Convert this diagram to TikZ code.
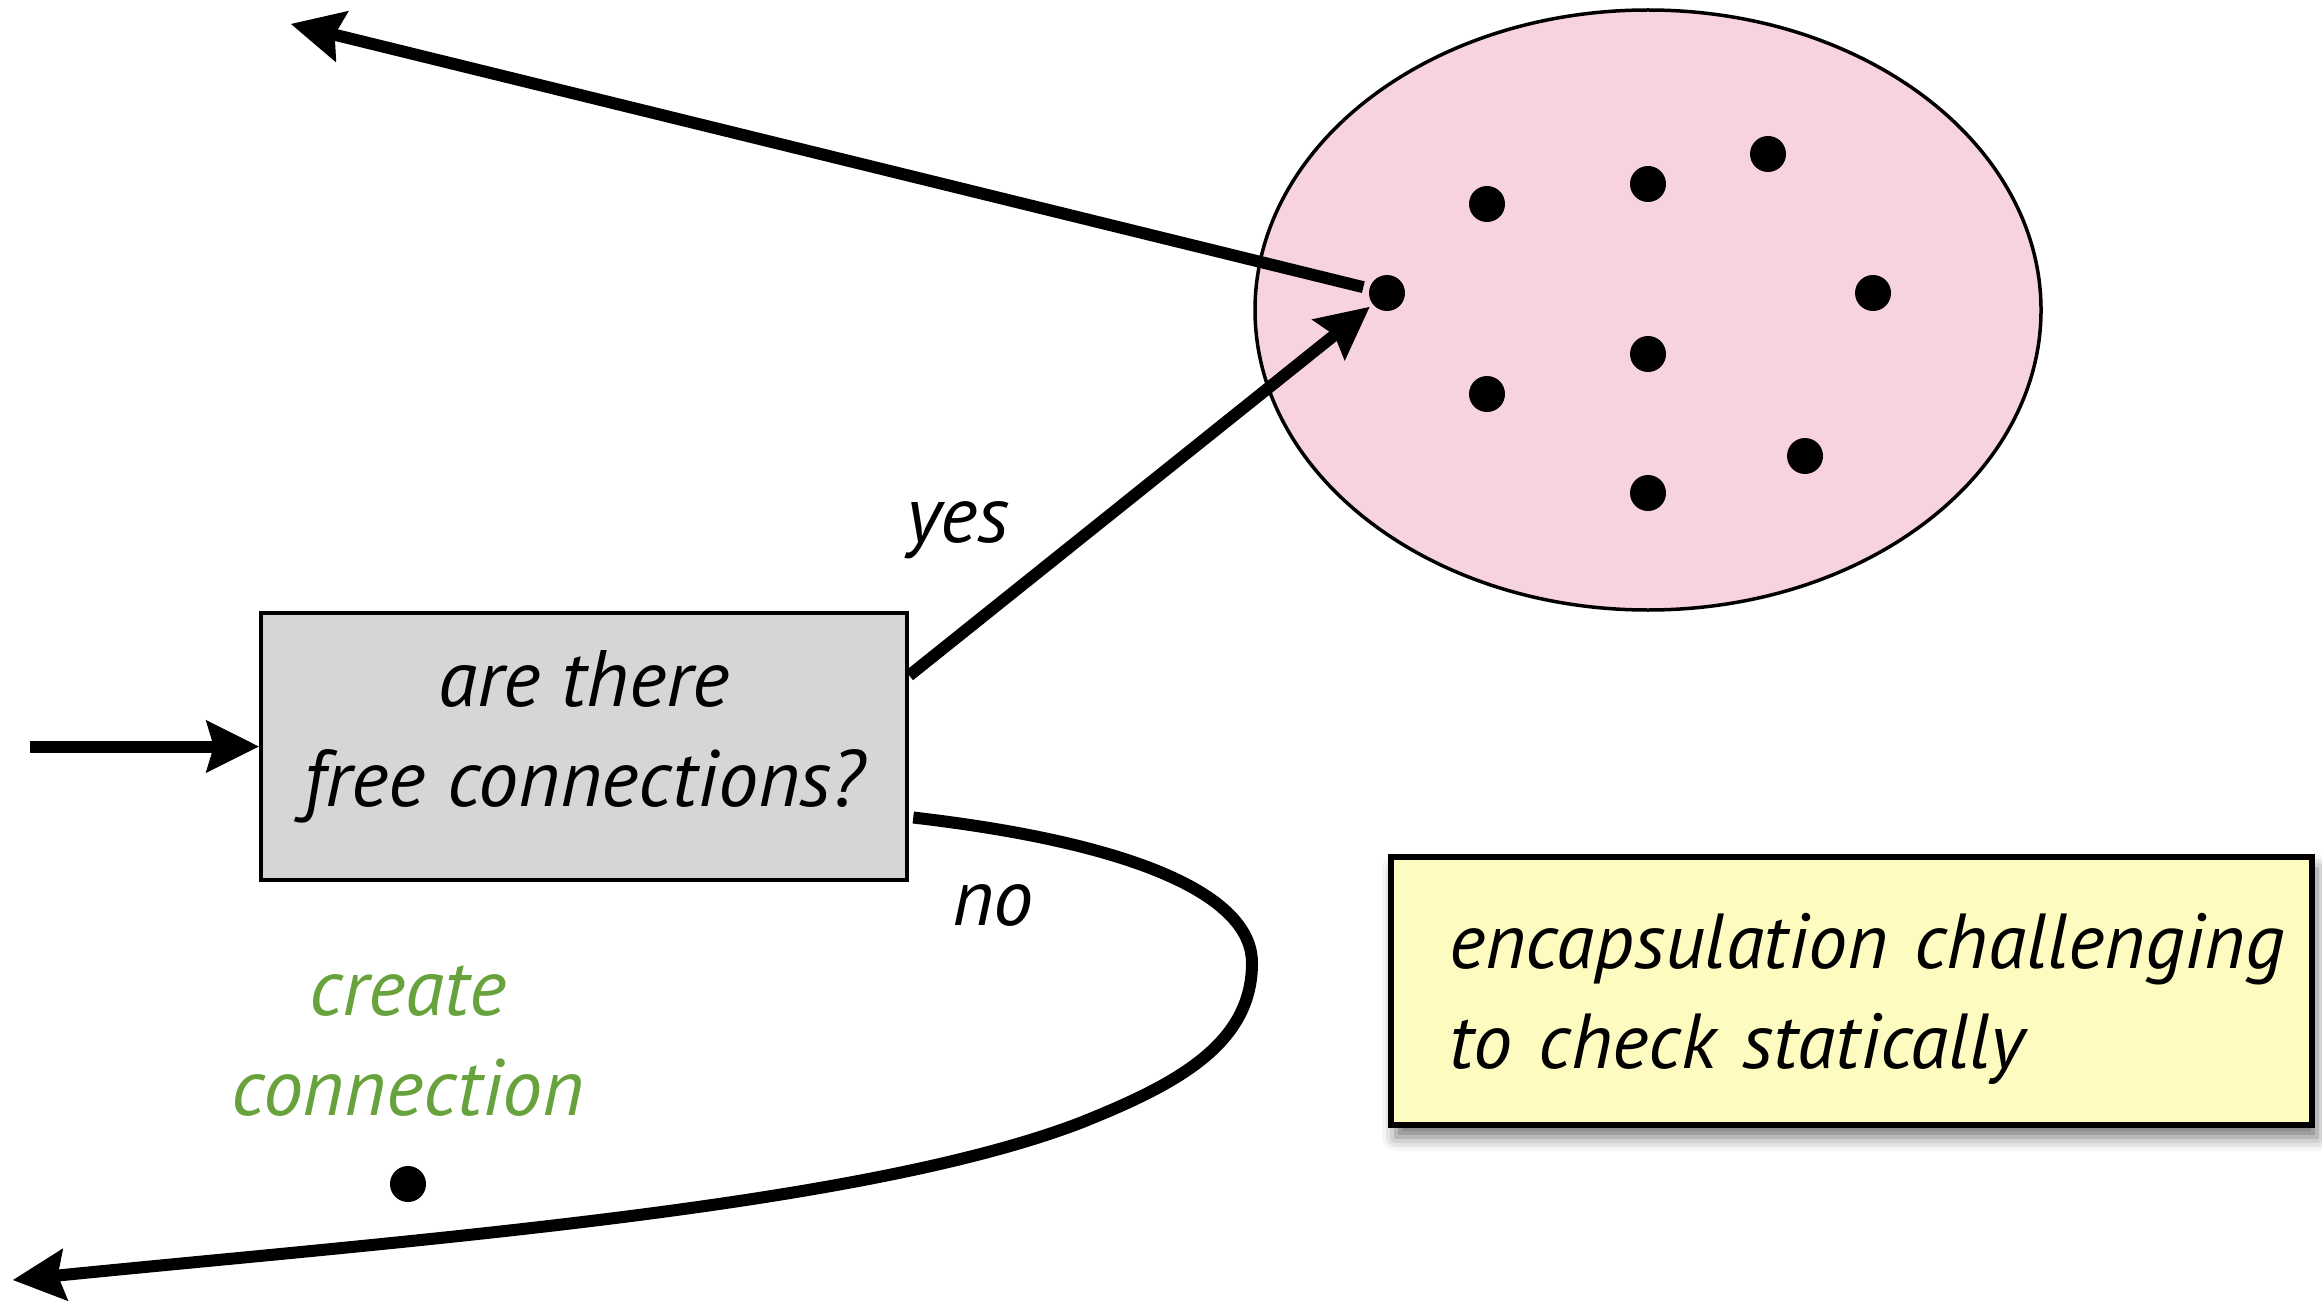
\documentclass[tikz,border=0pt]{standalone}
\usepackage{fontspec}
\setmainfont{PT Sans}
\usetikzlibrary{arrows.meta,calc,shapes.geometric,shadows.blur}
\definecolor{pinkfill}{HTML}{F7D3E0}
\definecolor{boxgray}{HTML}{D6D6D6}
\definecolor{noteyellow}{HTML}{FEFBC0}
\definecolor{leafgreen}{HTML}{68A23C}
\tikzset{
  lbl/.style={font=\itshape\fontsize{40}{50}\selectfont, inner sep=0pt},
  arr/.style={line width=6pt, -{Stealth[length=26.5pt,width=26.5pt,inset=4pt,line width=0.5pt]}},
  dotnode/.style={circle, fill=black, minimum size=18pt, inner sep=0pt},
  qbox/.style={lbl, draw, line width=2.25pt, fill=boxgray, minimum width=323pt,
    minimum height=133.5pt, align=center, text depth=18pt},
  pool/.style={draw, ellipse, fill=pinkfill, line width=1.75pt, minimum width=393pt,
    minimum height=300pt, inner sep=0pt},
  note/.style={lbl, font=\itshape\fontsize{39}{50}\selectfont, draw, line width=2.75pt,
    fill=noteyellow, text width=402.5pt, align=left, inner xsep=29pt, minimum height=134pt,
    text height=28pt, text depth=51pt,
    blur shadow={shadow xshift=2.5pt, shadow yshift=-6pt, shadow blur radius=7pt, shadow opacity=55}},
  greentext/.style={lbl, text=leafgreen, align=center}
}
\begin{document}
\begin{tikzpicture}[x=0.5pt,y=-0.5pt]
\useasboundingbox (0,0) rectangle (2322,1305);
% connection pool
\node[pool] (pool) at (1648,310) {};
\node[dotnode] (d1) at (1487,204) {};
\node[dotnode] (d2) at (1648,184) {};
\node[dotnode] (d3) at (1768,154) {};
\node[dotnode] (d4) at (1387,293) {};
\node[dotnode] (d5) at (1873,293) {};
\node[dotnode] (d6) at (1487,394) {};
\node[dotnode] (d7) at (1648,354) {};
\node[dotnode] (d8) at (1805,456) {};
\node[dotnode] (d9) at (1648,493) {};
% decision box
\node[qbox] (box) at (584,746.5) {are there\\free connections?};
% note
\node[note] (note) at (1851.5,991) {\mbox{encapsulation challenging}\\\mbox{to check statically}};
% labels
\node[lbl, anchor=base] (yes) at (958,542) {yes};
\node[lbl, anchor=base] (no) at (993,925) {no};
\node[greentext] (create) at (408,1041) {create\\connection};
\node[dotnode] (newdot) at (408,1184) {};
% free ends
\coordinate (src) at (30,746.5);
\coordinate (out1) at (291,24);
\coordinate (out2) at (13,1280);
% connectors
\draw[arr] (src) -- (box.west);
\draw[arr, shorten >=2pt] ($(box.east)+(0,-71)$) -- (d4);
\draw[arr, shorten <=3pt] (d4) -- (out1);
\draw[arr] ($(box.east)+(4,71)$) .. controls (1150,845) and (1252,900) .. (1252,963)
  .. controls (1252,1045) and (1175,1085) .. (1080,1123)
  .. controls (860,1207) and (413,1240) .. (out2);
\end{tikzpicture}
\end{document}
